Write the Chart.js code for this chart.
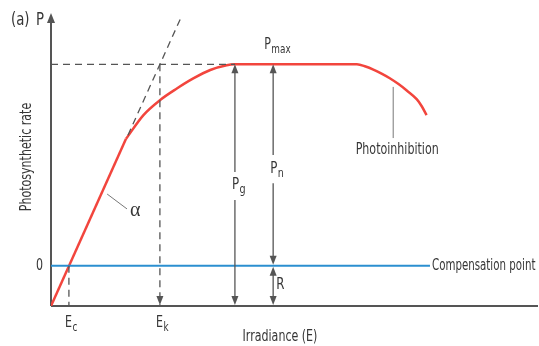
<!DOCTYPE html>
<html>
<head>
<meta charset="utf-8">
<script src="https://cdn.jsdelivr.net/npm/chart.js@4/dist/chart.umd.min.js"></script>
<style>
    body { margin: 0; background: #fff; }
    #wrap { width: 539px; height: 346px; }
</style>
</head>
<body>
<div id="wrap"><canvas id="chart"></canvas></div>
<script>
// ------------------------------ Curve data (arbitrary units) ------------------------------
// x = irradiance, y = rate, 0 = compensation level, -1 = dark respiration
var linearX = [0, 15.5];
var linearY = [-1, 3.15];
var curveX = [15.5, 19.1, 22.5, 26.0, 29.4, 32.9, 36.3, 38.0, 63.2, 65.0, 66.6, 68.3, 70.0, 71.8, 73.5, 75.6, 76.6, 77.6];
var curveY = [3.15, 3.74, 4.11, 4.40, 4.65, 4.86, 4.98, 5.0, 5.0, 4.945, 4.87, 4.77, 4.655, 4.51, 4.35, 4.13, 3.96, 3.74];
var tangentX = [15.9, 27.0];
var tangentY = [3.24, 6.2];
var pMax = 5;
var respiration = -1;
var compLevel = 0;
var eC = 3.7;
var eK = 22.5;
var xPg = 38;
var xPn = 45.9;
var compEnd = 78.3;
var xPhoto = 70.7;

var RED = '#f2453d';
var BLUE = '#2b8fd0';
var GREY = '#555';
var TEXT = '#363636';
var FONT = '"DejaVu Sans Condensed", "DejaVu Sans", sans-serif';
var SQUEEZE = 0.82;

function pts(xs, ys) {
    return xs.map((x, i) => ({x: x, y: ys[i]}));
}

function lineSet(data, color, width, dash, extra) {
    return Object.assign({
        data: data, showLine: true, borderColor: color, borderWidth: width,
        borderDash: dash || [], pointRadius: 0, fill: false, tension: 0
    }, extra || {});
}

function arrowHead(ctx, x, y, dir, w, len) {
    ctx.beginPath();
    ctx.moveTo(x, y);
    ctx.lineTo(x - w, y - dir * len);
    ctx.lineTo(x + w, y - dir * len);
    ctx.closePath();
    ctx.fill();
}

function seg(ctx, x1, y1, x2, y2) {
    ctx.beginPath();
    ctx.moveTo(x1, y1);
    ctx.lineTo(x2, y2);
    ctx.stroke();
}

// narrow text: the original uses a condensed face
function sText(ctx, text, x, y, size, align, squeeze) {
    let k = squeeze || SQUEEZE;
    ctx.save();
    ctx.font = size + 'px ' + FONT;
    ctx.textAlign = align || 'left';
    ctx.textBaseline = 'middle';
    ctx.translate(x, y);
    ctx.scale(k, 1);
    ctx.fillText(text, 0, 0);
    let w = ctx.measureText(text).width * k;
    ctx.restore();
    return w;
}

function subLabel(ctx, main, sub, x, y, size) {
    let w = sText(ctx, main, x, y, size);
    sText(ctx, sub, x + w + 0.5, y + size * 0.3, Math.round(size * 0.8));
}

var diagramPlugin = {
    id: 'diagram',
    beforeDatasetsDraw: function(chart) {
        let ctx = chart.ctx, xs = chart.scales.x, ys = chart.scales.y;
        let x0 = xs.getPixelForValue(0), yb = ys.getPixelForValue(respiration);
        ctx.save();
        ctx.strokeStyle = GREY;
        ctx.fillStyle = GREY;
        ctx.lineWidth = 2;
        seg(ctx, x0, yb, chart.width - 1, yb);
        seg(ctx, x0, yb, x0, chart.chartArea.top + 6);
        arrowHead(ctx, x0, chart.chartArea.top - 1, -1, 4, 10);
        ctx.restore();
    },
    afterDatasetsDraw: function(chart) {
        let ctx = chart.ctx, xs = chart.scales.x, ys = chart.scales.y;
        let px = v => xs.getPixelForValue(v), py = v => ys.getPixelForValue(v);
        ctx.save();
        ctx.strokeStyle = GREY;
        ctx.fillStyle = GREY;
        ctx.lineWidth = 1.3;

        // Ek arrow on the dashed drop line
        arrowHead(ctx, px(eK), py(respiration) - 1, 1, 3.5, 9);

        // Pg double arrow, broken round its label
        let gx = px(xPg);
        seg(ctx, gx, py(pMax) + 8, gx, py(2.33));
        seg(ctx, gx, py(1.63), gx, py(respiration) - 8);
        arrowHead(ctx, gx, py(pMax), -1, 3.5, 9);
        arrowHead(ctx, gx, py(respiration) - 1, 1, 3.5, 9);

        // Pn double arrow and R double arrow
        let nx = px(xPn);
        seg(ctx, nx, py(pMax) + 8, nx, py(2.75));
        seg(ctx, nx, py(2.05), nx, py(compLevel) - 8);
        arrowHead(ctx, nx, py(pMax), -1, 3.5, 9);
        arrowHead(ctx, nx, py(compLevel) - 1, 1, 3.5, 9);
        seg(ctx, nx, py(compLevel) + 8, nx, py(respiration) - 8);
        arrowHead(ctx, nx, py(compLevel) + 1, -1, 3.5, 9);
        arrowHead(ctx, nx, py(respiration) - 1, 1, 3.5, 9);

        // leader lines
        ctx.strokeStyle = '#777';
        ctx.lineWidth = 1;
        seg(ctx, px(11.6), py(1.78), px(15.7), py(1.41));
        seg(ctx, px(xPhoto), py(4.44), px(xPhoto), py(3.17));

        // texts
        ctx.fillStyle = TEXT;
        sText(ctx, '(a)', 11, 20, 18);
        sText(ctx, 'P', 36, 20, 18);
        sText(ctx, '0', px(0) - 8, py(compLevel), 15, 'right');

        subLabel(ctx, 'E', 'c', px(eC) - 4, py(respiration) + 17, 15);
        subLabel(ctx, 'E', 'k', px(eK) - 4, py(respiration) + 17, 15);
        subLabel(ctx, 'P', 'max', px(xPn) - 9, py(pMax) - 19, 15);
        subLabel(ctx, 'P', 'g', px(xPg) - 3, py(2.0), 16);
        subLabel(ctx, 'P', 'n', px(xPn) - 3, py(2.4), 16);
        sText(ctx, 'R', px(xPn) + 3, py(-0.47), 16);

        sText(ctx, 'Irradiance (E)', 280, 337, 15, 'center');
        sText(ctx, 'Photoinhibition', px(xPhoto) + 4, py(2.87), 15, 'center');
        sText(ctx, 'Compensation point', px(compEnd) + 2, py(compLevel), 15, 'left', 0.76);

        ctx.font = '20px "Liberation Serif", "DejaVu Serif", serif';
        ctx.textAlign = 'left';
        ctx.textBaseline = 'middle';
        ctx.fillText('\u03b1', 130, 211);

        ctx.translate(27, 157);
        ctx.rotate(-Math.PI / 2);
        sText(ctx, 'Photosynthetic rate', 0, 0, 15, 'center');
        ctx.restore();
    }
};

new Chart(document.getElementById('chart'), {
    type: 'scatter',
    data: {
        datasets: [
            lineSet(pts([0, xPg], [pMax, pMax]), GREY, 1.3, [7, 5]),
            lineSet(pts(tangentX, tangentY), GREY, 1.3, [7, 5]),
            lineSet(pts([eK, eK], [pMax, respiration]), GREY, 1.3, [7, 5]),
            lineSet(pts([eC, eC], [compLevel, respiration]), GREY, 1.3, [7, 5]),
            lineSet(pts([0, compEnd], [compLevel, compLevel]), BLUE, 2),
            lineSet(pts(linearX, linearY), RED, 2.5),
            lineSet(pts(curveX, curveY), RED, 2.5, null, {cubicInterpolationMode: 'monotone'})
        ]
    },
    options: {
        responsive: true,
        maintainAspectRatio: false,
        animation: false,
        layout: { padding: { left: 51, right: 4, top: 14, bottom: 40 } },
        plugins: { legend: { display: false }, tooltip: { enabled: false } },
        scales: {
            x: { type: 'linear', min: 0, max: 100, display: false },
            y: { type: 'linear', min: -1, max: 6.25, display: false }
        }
    },
    plugins: [diagramPlugin]
});
</script>
</body>
</html>
